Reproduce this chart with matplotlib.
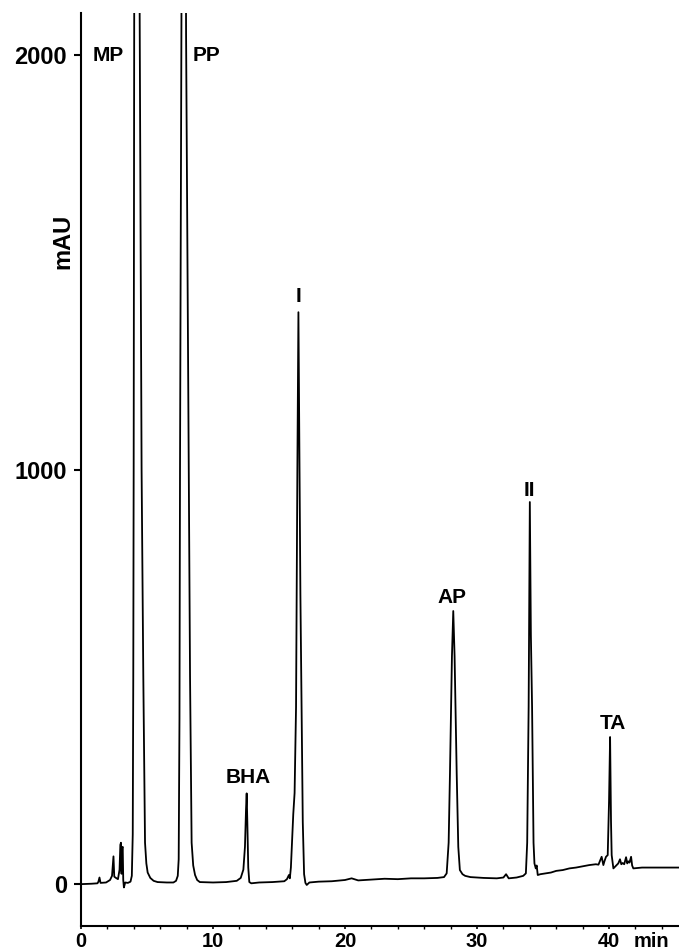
import matplotlib
matplotlib.use('Agg')
import matplotlib.pyplot as plt
from matplotlib.ticker import MultipleLocator

plt.rcParams['font.family'] = ['Liberation Sans', 'DejaVu Sans']

# chromatogram trace (time in min, signal in mAU)
time_min = [0.0, 0.8, 1.25, 1.32, 1.40, 1.48, 1.9, 2.2, 2.35, 2.42, 2.46, 2.52, 2.65, 2.8,
            2.92, 2.98, 3.03, 3.07, 3.12, 3.16, 3.2, 3.25, 3.35, 3.55, 3.75, 3.85, 3.92,
            3.96, 3.99, 4.02, 4.2, 4.45, 4.59, 4.72, 4.85, 4.95, 5.05, 5.25, 5.5, 5.8,
            6.5, 7.0, 7.2, 7.33, 7.4, 7.46, 7.5, 7.6, 7.8, 7.96, 8.16, 8.26, 8.38, 8.5,
            8.64, 8.8, 9.0, 10.0, 11.0, 11.8, 12.1, 12.3, 12.42, 12.5, 12.55, 12.6, 12.67,
            12.75, 12.9, 13.5, 14.5, 15.4, 15.6, 15.75, 15.82, 15.9, 16.0, 16.08, 16.18,
            16.29, 16.39, 16.47, 16.55, 16.62, 16.71, 16.8, 16.9, 17.0, 17.1, 17.3, 18.0,
            19.0, 20.0, 20.5, 21.0, 22.0, 23.0, 24.0, 25.0, 26.0, 27.0, 27.5, 27.7, 27.85,
            27.95, 28.1, 28.2, 28.3, 28.46, 28.58, 28.7, 28.9, 29.1, 29.5, 30.5, 31.5,
            32.0, 32.2, 32.4, 33.0, 33.5, 33.7, 33.8, 33.91, 34.0, 34.08, 34.17, 34.28,
            34.35, 34.45, 34.52, 34.6, 34.8, 35.2, 35.6, 36.0, 36.5, 37.0, 37.5, 38.0,
            38.5, 39.0, 39.2, 39.3, 39.44, 39.57, 39.65, 39.77, 39.9, 40.0, 40.08, 40.15,
            40.2, 40.33, 40.45, 40.58, 40.7, 40.83, 40.93, 41.03, 41.15, 41.29, 41.38,
            41.46, 41.55, 41.67, 41.75, 41.84, 42.5, 43.5, 45.3]
signal_mau = [0, 1, 2, 6, 16, 3, 4, 10, 20, 50, 67, 18, 15, 12,
              35, 95, 100, 25, 88, 90, 10, -8, 4, 3, 6, 20, 120,
              500, 1000, 2000, 4000, 2050, 1000, 500, 100, 50, 28, 15, 8, 5,
              4, 4, 8, 20, 60, 400, 1000, 2000, 4000, 2050, 1000, 500, 100, 45,
              22, 10, 5, 4, 5, 8, 15, 35, 90, 180, 219, 150, 40,
              5, 2, 4, 5, 7, 12, 22, 14, 40, 110, 169, 220,
              427, 1000, 1380, 1000, 700, 427, 150, 24, 3, -2, 4, 6,
              7, 10, 14, 9, 11, 13, 12, 14, 14, 15, 17, 26, 100,
              267, 550, 659, 550, 267, 90, 34, 24, 20, 17, 15, 14,
              16, 24, 14, 16, 20, 26, 100, 428, 922, 600, 428, 100,
              50, 38, 45, 22, 24, 26, 28, 32, 34, 38, 40, 43,
              46, 48, 47, 55, 66, 46, 55, 66, 70, 200, 355, 150,
              70, 38, 42, 46, 50, 60, 48, 51, 48, 65, 50,
              55, 52, 66, 45, 38, 40, 40, 40]

peak_names = ['MP', 'PP', 'BHA', 'I', 'AP', 'II', 'TA']
label_time = [2.05, 9.5, 12.65, 16.47, 28.1, 34.0, 40.3]
label_mau = [2000, 2000, 258, 1418, 692, 950, 388]

fig = plt.figure(figsize=(6.79, 9.52), dpi=100)
ax = fig.add_axes([81/679, 26/952, 598/679, 913/952])

ax.plot(time_min, signal_mau, color='black', linewidth=1.3)

for name, t, y in zip(peak_names, label_time, label_mau):
    ax.text(t, y, name, ha='center', va='center', fontsize=15, fontweight='bold')

ax.set_xlim(0, 45.3)
ax.set_ylim(-101, 2102)

ax.spines['top'].set_visible(False)
ax.spines['right'].set_visible(False)
ax.spines['left'].set_linewidth(1.5)
ax.spines['bottom'].set_linewidth(1.5)

ax.set_xticks([0, 10, 20, 30, 40])
ax.set_xticklabels(['0', '10', '20', '30', '40'])
ax.xaxis.set_minor_locator(MultipleLocator(2))
ax.set_yticks([0, 1000, 2000])
ax.tick_params(axis='y', length=5, width=1.5, pad=5, labelsize=17)
ax.tick_params(axis='x', length=2.5, width=1.2, pad=1.5, labelsize=14.5)
ax.tick_params(axis='x', which='minor', length=2, width=1)
for lab in ax.get_xticklabels() + ax.get_yticklabels():
    lab.set_fontweight('bold')

ax.annotate('min', xy=(43.2, 0), xycoords=('data', 'axes fraction'),
            xytext=(0, -4), textcoords='offset points', ha='center', va='top',
            fontsize=14.5, fontweight='bold')

fig.text(63/679, 1 - 241/952, 'mAU', rotation=90, ha='center', va='center',
         fontsize=17, fontweight='bold')

fig.savefig('out.png', dpi=100)
